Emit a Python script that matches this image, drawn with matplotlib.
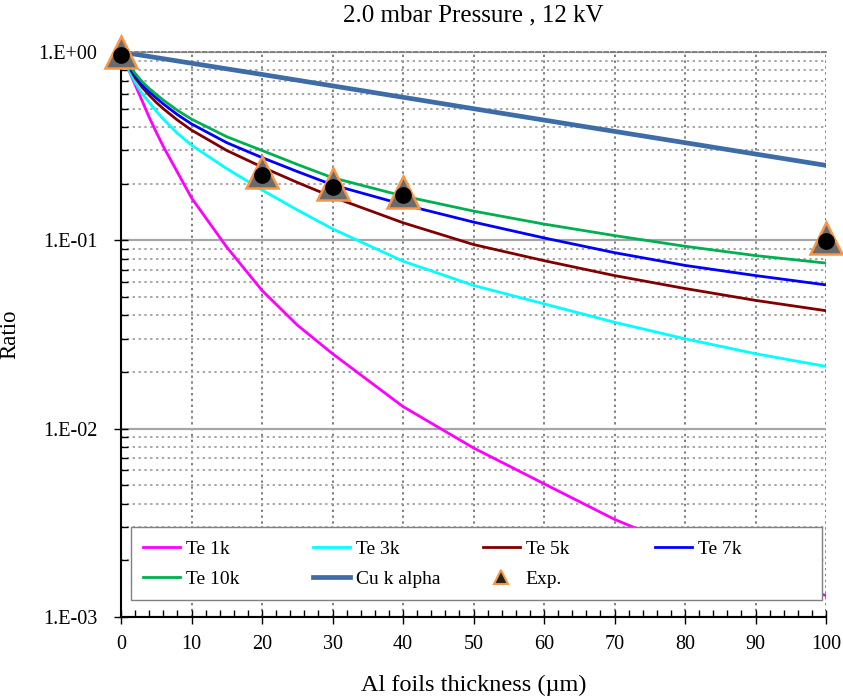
import numpy as np
import matplotlib
matplotlib.use("Agg")
import matplotlib.pyplot as plt
from matplotlib.ticker import MultipleLocator, LogLocator, FuncFormatter, NullFormatter
from matplotlib.lines import Line2D
from matplotlib.patches import Rectangle
from matplotlib.legend import Legend
import matplotlib.transforms as mtransforms

plt.rcParams['font.family'] = ['Liberation Serif', 'DejaVu Serif']

# thickness (um) where curve values were read
thick = [0, 1, 2, 3, 4, 5, 6, 8, 10, 15, 20, 25, 30, 40, 50, 60, 70, 80, 90, 100]

te_1k = [1.0, 0.82, 0.67, 0.55, 0.45, 0.375, 0.315, 0.23, 0.168, 0.092, 0.0542, 0.0355,
         0.025, 0.0131, 0.0079, 0.0051, 0.0033, 0.0023, 0.0017, 0.0013]
te_3k = [1.0, 0.82, 0.69, 0.60, 0.54, 0.485, 0.44, 0.37, 0.32, 0.24, 0.185, 0.145,
         0.115, 0.0775, 0.0576, 0.046, 0.0367, 0.030, 0.025, 0.0214]
te_5k = [1.0, 0.85, 0.73, 0.65, 0.59, 0.54, 0.50, 0.435, 0.385, 0.30, 0.245, 0.203,
         0.17, 0.124, 0.095, 0.078, 0.065, 0.0555, 0.048, 0.0423]
te_7k = [1.0, 0.86, 0.75, 0.67, 0.615, 0.57, 0.53, 0.465, 0.415, 0.33, 0.275, 0.232,
         0.197, 0.155, 0.125, 0.103, 0.086, 0.0736, 0.065, 0.058]
te_10k = [1.0, 0.87, 0.77, 0.695, 0.64, 0.595, 0.555, 0.49, 0.44, 0.355, 0.30, 0.253,
          0.215, 0.172, 0.143, 0.122, 0.106, 0.093, 0.083, 0.0757]

cu_x = [0, 20, 40, 60, 80, 100]
cu_ka = [1.0, 0.76, 0.575, 0.435, 0.33, 0.25]

exp_x = [0, 20, 30, 40, 100]
exp_y = [1.0, 0.23, 0.20, 0.18, 0.103]

fig = plt.figure(figsize=(8.43, 6.98), dpi=100)
ax = fig.add_axes([121/843, 1 - 617/698, 705/843, 565/698])

l1, = ax.plot(thick, te_1k, color='#ff00ff', lw=2, label='Te 1k')
l3, = ax.plot(thick, te_3k, color='#00ffff', lw=2, label='Te 3k')
l5, = ax.plot(thick, te_5k, color='#800000', lw=2, label='Te 5k')
l7, = ax.plot(thick, te_7k, color='#0000ff', lw=2, label='Te 7k')
l10, = ax.plot(thick, te_10k, color='#00b050', lw=2, label='Te 10k')
lcu, = ax.plot(cu_x, cu_ka, color='#3e6ca6', lw=3.4, label='Cu k alpha')

# experimental points: grey triangle with orange edge and a black dot
ax.plot(exp_x, exp_y, ls='none', marker='^', ms=23, mfc='#6b6b6b',
        mec='#f79646', mew=1.8, zorder=5, clip_on=False)
dot_tr = mtransforms.offset_copy(ax.transData, fig=fig, y=-3, units='dots')
ax.plot(exp_x, exp_y, ls='none', marker='o', ms=11, mfc='black', mec='black',
        transform=dot_tr, zorder=6, clip_on=False)

ax.set_yscale('log')
ax.set_xlim(0, 100)
ax.set_ylim(1e-3, 1)

ax.xaxis.set_major_locator(MultipleLocator(10))
ax.xaxis.set_minor_locator(MultipleLocator(2))
ax.yaxis.set_major_locator(LogLocator(base=10))
ax.yaxis.set_minor_locator(LogLocator(base=10, subs=np.arange(2, 10)))
ax.yaxis.set_minor_formatter(NullFormatter())
ax.yaxis.set_major_formatter(FuncFormatter(lambda v, p: "1.E%+03d" % int(round(np.log10(v)))))

ax.tick_params(axis='x', which='major', direction='inout', length=10, width=1, labelsize=14.5, pad=8)
ax.tick_params(axis='x', which='minor', direction='in', length=5, width=1)
ax.tick_params(axis='y', which='major', direction='inout', length=10, width=1, labelsize=14.5, pad=12)
ax.tick_params(axis='y', which='minor', direction='in', length=5, width=1)

# grid
ax.grid(True, axis='x', which='major', color='#7f7f7f', ls=(0, (1.2, 1.8)), lw=1.4)
ax.grid(True, axis='y', which='minor', color='#a6a6a6', ls=(0, (1.2, 1.8)), lw=1.4)
ax.grid(True, axis='y', which='major', color='#a6a6a6', ls='-', lw=1.6)
for t in ax.yaxis.get_major_ticks():
    if abs(t.get_loc() - 1e-2) < 1e-6:
        t.gridline.set_color('#595959')
    elif abs(t.get_loc() - 1.0) < 1e-6:
        t.gridline.set_visible(False)
ax.set_axisbelow(True)

ax.spines['left'].set_linewidth(1.5)
ax.spines['bottom'].set_linewidth(1.5)
ax.spines['right'].set_visible(False)
ax.spines['top'].set_color('#7f7f7f')
ax.spines['top'].set_linestyle((0, (2, 1.5)))
ax.spines['top'].set_linewidth(1.4)

ax.set_title('2.0 mbar Pressure , 12 kV', fontsize=18, pad=22)
ax.set_xlabel('Al foils thickness (\u00b5m)', fontsize=17.5, labelpad=15)
ax.set_ylabel('Ratio', fontsize=16.5)
ax.yaxis.set_label_coords(-0.143, 0.5)

# legend: white box with four fixed-width columns, like the original
box = Rectangle((0.0142, 0.030), 0.98, 0.129, transform=ax.transAxes,
                facecolor='white', edgecolor='#808080', lw=1.0, zorder=6)
ax.add_patch(box)

exp_h = Line2D([], [], ls='none', marker='^', ms=10, mfc='#222222', mec='#f79646', mew=1.5)
columns = [([l1, l10], ['Te 1k', 'Te 10k']),
           ([l3, lcu], ['Te 3k', 'Cu k alpha']),
           ([l5, exp_h], ['Te 5k', 'Exp.']),
           ([l7], ['Te 7k'])]
col_x = [0.0312, 0.2723, 0.5135, 0.7574]
for (hs, ls_), cx in zip(columns, col_x):
    anchor_y = 0.0938 if len(hs) == 2 else 0.1204
    leg = Legend(ax, hs, ls_, loc='center left', bbox_to_anchor=(cx, anchor_y),
                 bbox_transform=ax.transAxes, fontsize=14, frameon=False,
                 handlelength=1.9, handletextpad=0.3, labelspacing=0.62,
                 borderpad=0, borderaxespad=0)
    leg.set_zorder(7)
    ax.add_artist(leg)

fig.savefig('out.png', dpi=100)
